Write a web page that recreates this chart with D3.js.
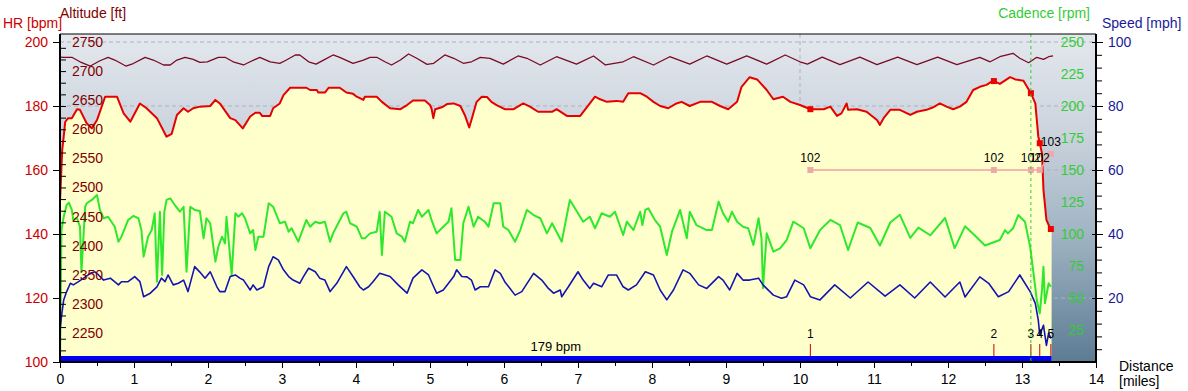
<!DOCTYPE html>
<html>
<head>
<meta charset="utf-8">
<script src="https://cdn.jsdelivr.net/npm/d3@7"></script>
<style>
  body { margin: 0; background: #fff; }
  text { font-family: "Liberation Sans", Arial, sans-serif; }
</style>
</head>
<body>
<div id="chart"></div>
<script>
// data: [miles, value]
var hrData = [[0,150],[0.03,166.3],[0.05,170.4],[0.07,175],[0.11,176.2],[0.16,176.2],[0.23,179],[0.27,178.8],[0.36,174.6],[0.43,173],[0.5,175.6],[0.61,182.9],[0.77,182.9],[0.86,177.7],[0.95,175.1],[1.08,180.8],[1.17,179.3],[1.31,176.2],[1.44,170.4],[1.51,171.3],[1.58,177.2],[1.67,179.3],[1.73,178.2],[1.8,179.3],[1.89,179.8],[2.03,180],[2.1,181.9],[2.16,180.8],[2.3,176.2],[2.37,175.6],[2.47,173],[2.57,176.7],[2.64,177.9],[2.7,177.9],[2.73,176.9],[2.84,176.9],[2.88,179.3],[2.97,180.8],[3.02,183.4],[3.11,185.7],[3.33,185.7],[3.38,185],[3.47,185],[3.49,184.2],[3.58,184.2],[3.63,185.7],[3.78,185.7],[3.87,184.2],[3.96,183.8],[4.01,182.9],[4.1,181.9],[4.12,182.9],[4.28,182.9],[4.35,181.3],[4.46,179.3],[4.6,179],[4.69,180.3],[4.77,181.7],[4.93,181.7],[5,180.3],[5.02,179.3],[5.045,176.2],[5.07,179],[5.16,179.6],[5.23,180.6],[5.32,180.8],[5.41,180],[5.47,177.2],[5.53,173.3],[5.56,175.6],[5.63,181.3],[5.7,182.9],[5.77,182.8],[5.83,181.3],[5.9,180.3],[6.01,179],[6.13,179],[6.26,180.8],[6.35,179.8],[6.46,178.2],[6.65,178.2],[6.71,179],[6.85,176.9],[7.03,176.9],[7.16,180.8],[7.23,182.9],[7.3,182.1],[7.39,181.3],[7.52,181.6],[7.61,181.3],[7.68,184],[7.84,184],[7.93,182.9],[8.02,181.3],[8.11,180],[8.22,179.3],[8.33,180.8],[8.4,181.3],[8.51,180],[8.65,181.3],[8.81,181.3],[8.92,180],[9.03,179],[9.15,181.3],[9.21,186],[9.32,189],[9.42,188.3],[9.55,185],[9.64,182.1],[9.77,182.9],[9.87,181.3],[10,180.3],[10.14,179],[10.32,179],[10.41,179.8],[10.5,176.9],[10.56,177.7],[10.63,180.8],[10.65,178.8],[10.77,179],[10.9,178.2],[11.04,175.6],[11.08,174.1],[11.13,176.2],[11.22,178.8],[11.35,178.8],[11.49,177.2],[11.58,178.2],[11.71,178.8],[11.8,179.6],[11.89,180.8],[11.98,179.8],[12.07,179],[12.16,179.8],[12.25,181.3],[12.34,185],[12.43,186],[12.52,186.6],[12.61,187.9],[12.7,186.9],[12.84,189],[12.91,188.3],[13.02,187.9],[13.12,184],[13.18,180.8],[13.22,170.5],[13.27,165.2],[13.29,153.8],[13.33,144.4],[13.38,141.8],[13.4,141.3]];

var altData = [[0,2724],[0.05,2723.7],[0.16,2723.7],[0.27,2716],[0.41,2708.7],[0.54,2717.8],[0.65,2723.7],[0.74,2719],[0.89,2708.7],[0.99,2713],[1.15,2723.7],[1.26,2719],[1.4,2710.5],[1.49,2710.5],[1.58,2719],[1.69,2723.7],[1.8,2720.2],[1.89,2715],[1.99,2716],[2.14,2723.7],[2.23,2723.7],[2.34,2716],[2.48,2710.5],[2.57,2716],[2.7,2723.7],[2.84,2716],[2.97,2713.4],[3.06,2719],[3.18,2727.7],[3.24,2727.7],[3.36,2716],[3.46,2712],[3.58,2720.2],[3.69,2727.7],[3.78,2723.7],[3.96,2713.4],[4.1,2719],[4.19,2723.7],[4.28,2723.7],[4.39,2716],[4.48,2710.5],[4.6,2719],[4.71,2729.4],[4.82,2722],[4.96,2711.6],[5.05,2713.4],[5.2,2727.7],[5.32,2722],[5.45,2713.4],[5.56,2716],[5.68,2723.7],[5.81,2722],[5.99,2712],[6.19,2726],[6.31,2722],[6.49,2710.5],[6.71,2724.7],[6.98,2712],[7.21,2726],[7.37,2710.5],[7.61,2716],[7.75,2724.7],[8.02,2710.5],[8.24,2724.7],[8.51,2712],[8.74,2726],[9.01,2712],[9.28,2726],[9.55,2712],[9.8,2727.7],[10,2716],[10.1,2712],[10.3,2724],[10.54,2711],[10.81,2724],[11.04,2711],[11.32,2724],[11.58,2711],[11.86,2724],[12.12,2711],[12.43,2723.7],[12.57,2716],[12.7,2724.7],[12.88,2730.6],[12.97,2722],[13.09,2714.4],[13.2,2723.7],[13.29,2720.2],[13.36,2724.7],[13.42,2726]];

var cadData = [[0,0],[0.02,103],[0.05,113.5],[0.09,122.7],[0.12,124.5],[0.16,118.8],[0.18,110.9],[0.23,112.3],[0.27,105.7],[0.29,70.3],[0.34,121.3],[0.36,124],[0.43,126.6],[0.5,130.5],[0.54,118.8],[0.59,112.3],[0.65,113.5],[0.74,105.7],[0.79,94],[0.83,97.9],[0.92,110.9],[0.99,114.1],[1.06,112.3],[1.1,103.1],[1.13,82.3],[1.19,97.9],[1.24,103.1],[1.28,116.2],[1.31,62.7],[1.35,117.4],[1.38,68],[1.41,117.4],[1.44,126.6],[1.49,127.9],[1.55,122.7],[1.62,117.4],[1.67,121.3],[1.71,70.5],[1.76,121.3],[1.82,118.8],[1.89,118],[1.94,96.6],[1.98,112.3],[2.03,108.4],[2.1,78.4],[2.14,90.1],[2.19,97.9],[2.23,92.7],[2.25,113.5],[2.32,68],[2.37,116.2],[2.41,113.5],[2.46,116.2],[2.5,112.3],[2.57,100.5],[2.61,103.1],[2.64,87.5],[2.68,97.9],[2.75,97.9],[2.82,124],[2.88,121.3],[2.97,108.4],[3.04,109.6],[3.09,101.8],[3.13,104.5],[3.22,94],[3.33,111],[3.38,105.7],[3.45,109.6],[3.51,108.4],[3.58,109.6],[3.65,94],[3.69,100.5],[3.76,108.4],[3.83,116.2],[3.87,117.4],[3.92,108.4],[4.01,105.7],[4.08,96.6],[4.12,96.6],[4.19,100.5],[4.28,101.8],[4.32,117.4],[4.35,83.6],[4.39,117.4],[4.48,113.5],[4.55,100.5],[4.62,97.9],[4.66,94],[4.73,109.6],[4.77,108.4],[4.84,118.8],[4.89,113.5],[4.98,118.8],[5.02,111],[5.09,100.5],[5.18,105.7],[5.25,109.6],[5.29,120.1],[5.34,79.7],[5.41,79.7],[5.45,108.4],[5.52,121.3],[5.59,105.7],[5.65,113.5],[5.74,109.6],[5.79,105.7],[5.86,124],[5.95,124],[5.99,105.7],[6.06,103.1],[6.15,94],[6.22,103.1],[6.31,118.8],[6.4,114.8],[6.49,112.3],[6.58,100.5],[6.65,108.4],[6.78,94],[6.89,126.6],[7,116.2],[7.07,109.6],[7.16,113.5],[7.23,104.5],[7.32,116.2],[7.43,113.5],[7.5,117.4],[7.61,99.2],[7.66,109.6],[7.75,103.1],[7.84,117.4],[7.87,107],[7.91,118.8],[7.95,120.1],[8.04,110.9],[8.11,105.7],[8.2,83.6],[8.27,101.8],[8.38,118.8],[8.47,96.6],[8.51,117.4],[8.6,107],[8.74,103.1],[8.81,103.1],[8.9,125.3],[8.96,116.2],[9.03,109.6],[9.08,117.4],[9.15,109.6],[9.23,105.7],[9.3,104.5],[9.37,91.4],[9.44,112.3],[9.48,96.6],[9.5,57.6],[9.55,100.5],[9.64,86.2],[9.73,88.8],[9.82,95.3],[9.91,109.6],[10.05,104.5],[10.14,88.8],[10.27,103],[10.41,111],[10.54,107],[10.65,87.5],[10.78,109],[10.95,104.7],[11.08,91],[11.22,109],[11.35,115],[11.49,97],[11.6,105],[11.76,99],[11.96,112.5],[12.09,89],[12.23,106],[12.36,99],[12.5,91],[12.7,95.3],[12.77,103],[12.81,100.5],[12.88,104.5],[12.95,114.8],[13.04,109.6],[13.11,90.1],[13.15,71.9],[13.2,48.4],[13.24,38],[13.27,56.3],[13.29,74.5],[13.31,45.9],[13.36,61.5],[13.39,58.8]];

var spdData = [[0,10],[0.02,14.2],[0.05,19.4],[0.09,22],[0.14,24.6],[0.18,24.1],[0.25,25.1],[0.32,26.2],[0.41,27.7],[0.47,28.2],[0.52,27.2],[0.59,25.6],[0.68,26.2],[0.79,24.1],[0.83,25.1],[0.92,25.1],[1.01,26.7],[1.08,25.1],[1.13,20.4],[1.22,21.5],[1.31,23.5],[1.37,26.2],[1.42,25.1],[1.46,27.2],[1.53,24.1],[1.6,24.6],[1.67,25.6],[1.73,22],[1.82,29.8],[1.89,28.1],[1.96,26.2],[2.03,28.2],[2.12,23.5],[2.16,22],[2.23,22],[2.3,26.7],[2.37,27.2],[2.43,26.2],[2.48,25.6],[2.57,22.5],[2.61,24.1],[2.66,22.5],[2.75,23.5],[2.82,29.8],[2.88,32.9],[2.95,31.9],[3.02,28.8],[3.09,26.7],[3.15,25.6],[3.24,24.6],[3.29,26.7],[3.36,29.3],[3.45,28.2],[3.51,26.2],[3.58,25.6],[3.65,22],[3.74,24.6],[3.87,29.8],[3.96,26.7],[4.05,23.5],[4.1,22.5],[4.17,23.5],[4.23,25.1],[4.32,27.7],[4.46,26.7],[4.57,24.1],[4.69,21.5],[4.77,26.2],[4.89,28.8],[4.98,27.2],[5.05,23.5],[5.09,21.5],[5.18,22.5],[5.32,26.7],[5.36,28.8],[5.43,26.7],[5.5,26.6],[5.56,25.6],[5.61,22.5],[5.68,23.5],[5.79,23.5],[5.88,28.8],[5.95,27.7],[6.01,25.1],[6.15,20.9],[6.24,22],[6.4,27.7],[6.51,25.6],[6.6,23],[6.67,21.5],[6.76,22.5],[6.78,20.4],[6.87,23.5],[7,28.2],[7.07,25.6],[7.16,23],[7.21,24.6],[7.32,23.5],[7.41,27.2],[7.52,27.2],[7.61,23.5],[7.68,22.5],[7.79,24.1],[7.91,28.2],[8.02,27.2],[8.11,22.5],[8.2,19.4],[8.29,22.5],[8.42,28.8],[8.51,27.7],[8.63,24.1],[8.74,23],[8.9,26.7],[8.96,25.6],[9.05,22.5],[9.15,27.7],[9.23,25.6],[9.32,25.6],[9.44,26.2],[9.5,24.1],[9.64,20.9],[9.75,19.9],[9.82,20.4],[9.93,25.6],[10.05,24.1],[10.14,20.4],[10.27,19.4],[10.47,24.1],[10.68,20],[10.92,25],[11.15,20.6],[11.35,24.1],[11.55,20],[11.76,25],[11.96,20.3],[12.16,25],[12.23,20.3],[12.43,26.6],[12.55,24.6],[12.68,20.4],[12.82,22],[12.97,27.2],[13.11,22],[13.18,18.3],[13.22,13.1],[13.24,8.4],[13.29,11.5],[13.33,5.2],[13.36,9],[13.39,7.4]];

// laps
var lapDist = [10.14, 12.62, 13.12, 13.24, 13.39];
var lapNames = ["1", "2", "3", "4", "5"];
var lapValue = [102, 102, 102, 102, 103];
var avgHRLabel = "179 bpm";

// tick labels
var hrTicks = [100, 120, 140, 160, 180, 200];
var altTicks = [2250, 2300, 2350, 2400, 2450, 2500, 2550, 2600, 2650, 2700, 2750];
var cadTicks = [25, 50, 75, 100, 125, 150, 175, 200, 225, 250];
var spdTicks = [20, 40, 60, 80, 100];
var distTicks = [0, 1, 2, 3, 4, 5, 6, 7, 8, 9, 10, 11, 12, 13, 14];

var svgWidth = 1188;
var svgHeight = 391;
var margin = { top: 34, right: 92, bottom: 29, left: 60 };
var width = svgWidth - margin.left - margin.right;
var height = svgHeight - margin.top - margin.bottom;

var svg = d3.select("#chart").append("svg")
  .attr("width", svgWidth)
  .attr("height", svgHeight);

var defs = svg.append("defs");
var grad = defs.append("linearGradient")
  .attr("id", "bg").attr("x1", 0).attr("y1", 0).attr("x2", 0).attr("y2", 1);
grad.append("stop").attr("offset", "0%").attr("stop-color", "#e4e8ee");
grad.append("stop").attr("offset", "30%").attr("stop-color", "#cbd3dd");
grad.append("stop").attr("offset", "60%").attr("stop-color", "#a2b5c4");
grad.append("stop").attr("offset", "100%").attr("stop-color", "#5c7c94");

var chartGroup = svg.append("g")
  .attr("transform", `translate(${margin.left}, ${margin.top})`);

// scales
var x = d3.scaleLinear().domain([0, 14]).range([0, width]);
var yHR = d3.scaleLinear().domain([100, 202.5]).range([height, 0]);
var yAlt = d3.scaleLinear().domain([2200, 2763.75]).range([height, 0]);
var yCad = d3.scaleLinear().domain([0, 256.25]).range([height, 0]);
var ySpd = d3.scaleLinear().domain([0, 102.5]).range([height, 0]);
var yLap = d3.scaleLinear().domain([102, 103]).range([yHR(160), yHR(165)]);

// background
chartGroup.append("rect")
  .attr("width", width).attr("height", height)
  .attr("fill", "url(#bg)");

// grid (under the HR fill)
chartGroup.selectAll(".hgrid")
  .data(hrTicks.slice(1))
  .enter().append("line")
  .attr("x1", 0).attr("x2", width)
  .attr("y1", d => yHR(d)).attr("y2", d => yHR(d))
  .attr("stroke", "#a9b3bd")
  .attr("stroke-dasharray", "4,3");

chartGroup.append("line")
  .attr("x1", x(10)).attr("x2", x(10))
  .attr("y1", 0).attr("y2", height)
  .attr("stroke", "#a9b3bd")
  .attr("stroke-dasharray", "4,3");

// HR fill
var hrArea = d3.area()
  .x(d => x(d[0]))
  .y0(height)
  .y1(d => yHR(d[1]));

chartGroup.append("path")
  .datum(hrData)
  .attr("d", hrArea)
  .attr("fill", "#ffffcc");

// lines
function drawLine(data, yScale, color, w) {
  var line = d3.line().x(d => x(d[0])).y(d => yScale(d[1]));
  chartGroup.append("path")
    .datum(data)
    .attr("d", line)
    .attr("fill", "none")
    .attr("stroke", color)
    .attr("stroke-width", w)
    .attr("stroke-linejoin", "round");
}

drawLine(altData, yAlt, "#7a0a22", 1.3);
drawLine(cadData, yCad, "#2ee82e", 2);
drawLine(spdData, ySpd, "#1414b0", 1.6);
drawLine(hrData, yHR, "#e60000", 2);

// avg HR bar
var lastDist = hrData[hrData.length - 1][0];
chartGroup.append("rect")
  .attr("x", 0).attr("y", height - 6)
  .attr("width", x(lastDist)).attr("height", 6)
  .attr("fill", "#0000ee");

chartGroup.append("text")
  .attr("x", x(lastDist) / 2)
  .attr("y", height - 11)
  .attr("text-anchor", "middle")
  .attr("font-size", "13px")
  .attr("fill", "#000")
  .text(avgHRLabel);

// lap markers
chartGroup.selectAll(".laptick")
  .data(lapDist)
  .enter().append("line")
  .attr("x1", d => x(d)).attr("x2", d => x(d))
  .attr("y1", height - 18).attr("y2", height - 6)
  .attr("stroke", "#cc0000");

chartGroup.selectAll(".lapname")
  .data(lapDist)
  .enter().append("text")
  .attr("x", d => x(d))
  .attr("y", height - 24)
  .attr("text-anchor", "middle")
  .attr("font-size", "12px")
  .attr("fill", "#000")
  .text((d, i) => lapNames[i]);

// lap values (pink)
var lapPoints = lapDist.map((d, i) => [d, lapValue[i]]);
chartGroup.append("path")
  .datum(lapPoints)
  .attr("d", d3.line().x(d => x(d[0])).y(d => yLap(d[1])))
  .attr("fill", "none")
  .attr("stroke", "#f0a0a0")
  .attr("stroke-width", 1.5);

chartGroup.selectAll(".lapsq")
  .data(lapPoints)
  .enter().append("rect")
  .attr("x", d => x(d[0]) - 3).attr("y", d => yLap(d[1]) - 3)
  .attr("width", 6).attr("height", 6)
  .attr("fill", "#f0a8a8");

chartGroup.selectAll(".lapval")
  .data(lapPoints)
  .enter().append("text")
  .attr("x", d => x(d[0]))
  .attr("y", d => yLap(d[1]) - 8)
  .attr("text-anchor", "middle")
  .attr("font-size", "12px")
  .attr("fill", "#000")
  .text(d => d[1]);

// HR at lap ends
var bis = d3.bisector(d => d[0]).left;
function hrAt(m) {
  var i = bis(hrData, m);
  if (i <= 0) return hrData[0][1];
  if (i >= hrData.length) return hrData[hrData.length - 1][1];
  var a = hrData[i - 1], b = hrData[i];
  return a[1] + (b[1] - a[1]) * (m - a[0]) / (b[0] - a[0]);
}

chartGroup.selectAll(".hrsq")
  .data(lapDist)
  .enter().append("rect")
  .attr("x", d => x(d) - 3).attr("y", d => yHR(hrAt(d)) - 3)
  .attr("width", 6).attr("height", 6)
  .attr("fill", "#ee0000");

// cursor line
chartGroup.append("line")
  .attr("x1", x(lapDist[2])).attr("x2", x(lapDist[2]))
  .attr("y1", 0).attr("y2", height)
  .attr("stroke", "#33cc33")
  .attr("stroke-dasharray", "3,3");

// axes
function styleAxis(g, color, size) {
  g.select(".domain").remove();
  g.selectAll("line").attr("stroke", "#000");
  g.selectAll("text")
    .attr("fill", color)
    .attr("font-size", size)
    .attr("font-family", "'Liberation Sans', Arial, sans-serif");
}

var hrAxis = chartGroup.append("g")
  .call(d3.axisLeft(yHR).tickValues(hrTicks).tickSize(7).tickPadding(5));
styleAxis(hrAxis, "#cc0000", "14px");

var altMinor = chartGroup.append("g")
  .call(d3.axisRight(yAlt).tickValues(d3.range(2220, 2760, 20)).tickSize(6).tickFormat(""));
styleAxis(altMinor, "#000", "14px");

var altAxis = chartGroup.append("g")
  .call(d3.axisRight(yAlt).tickValues(altTicks).tickSize(0).tickPadding(12).tickFormat(d3.format("d")));
styleAxis(altAxis, "#800000", "14px");

var spdMinor = chartGroup.append("g")
  .attr("transform", `translate(${width}, 0)`)
  .call(d3.axisRight(ySpd).tickValues(d3.range(4, 100, 4).filter(d => d % 20 !== 0)).tickSize(6).tickFormat(""));
styleAxis(spdMinor, "#000", "14px");

var spdInner = chartGroup.append("g")
  .attr("transform", `translate(${width}, 0)`)
  .call(d3.axisLeft(ySpd).tickValues(spdTicks).tickSize(4).tickFormat(""));
styleAxis(spdInner, "#000", "14px");

var spdAxis = chartGroup.append("g")
  .attr("transform", `translate(${width}, 0)`)
  .call(d3.axisRight(ySpd).tickValues(spdTicks).tickSize(7).tickPadding(5));
styleAxis(spdAxis, "#1a1a99", "14px");

var cadAxis = chartGroup.append("g")
  .attr("transform", `translate(${width}, 0)`)
  .call(d3.axisLeft(yCad).tickValues(cadTicks).tickSize(0).tickPadding(12));
styleAxis(cadAxis, "#33cc33", "14px");

var xMinor = chartGroup.append("g")
  .attr("transform", `translate(0, ${height})`)
  .call(d3.axisBottom(x).tickValues(d3.range(0.5, 14, 1)).tickSize(4).tickFormat(""));
styleAxis(xMinor, "#000", "14px");

var xAxis = chartGroup.append("g")
  .attr("transform", `translate(0, ${height})`)
  .call(d3.axisBottom(x).tickValues(distTicks).tickSize(6).tickPadding(6));
styleAxis(xAxis, "#000", "14px");

// frame
chartGroup.append("line").attr("x1", 0).attr("x2", width).attr("y1", 0).attr("y2", 0)
  .attr("stroke", "#000");
chartGroup.append("line").attr("x1", 0).attr("x2", 0).attr("y1", 0).attr("y2", height)
  .attr("stroke", "#000").attr("stroke-width", 2);
chartGroup.append("line").attr("x1", width).attr("x2", width).attr("y1", 0).attr("y2", height)
  .attr("stroke", "#000").attr("stroke-width", 2);
chartGroup.append("line").attr("x1", -1).attr("x2", width + 1).attr("y1", height).attr("y2", height)
  .attr("stroke", "#000").attr("stroke-width", 2);

// titles
function title(txt, xp, yp, color, anchor) {
  svg.append("text")
    .attr("x", xp).attr("y", yp)
    .attr("fill", color)
    .attr("font-size", "14px")
    .attr("text-anchor", anchor || "start")
    .text(txt);
}
title("Altitude [ft]", 60, 18, "#800000");
title("HR [bpm]", 3, 28, "#cc0000");
title("Cadence [rpm]", 1090, 18, "#33cc33", "end");
title("Speed [mph]", 1102, 28, "#1a1a99");
title("Distance", 1119, 371, "#000");
title("[miles]", 1119, 386, "#000");
</script>
</body>
</html>
